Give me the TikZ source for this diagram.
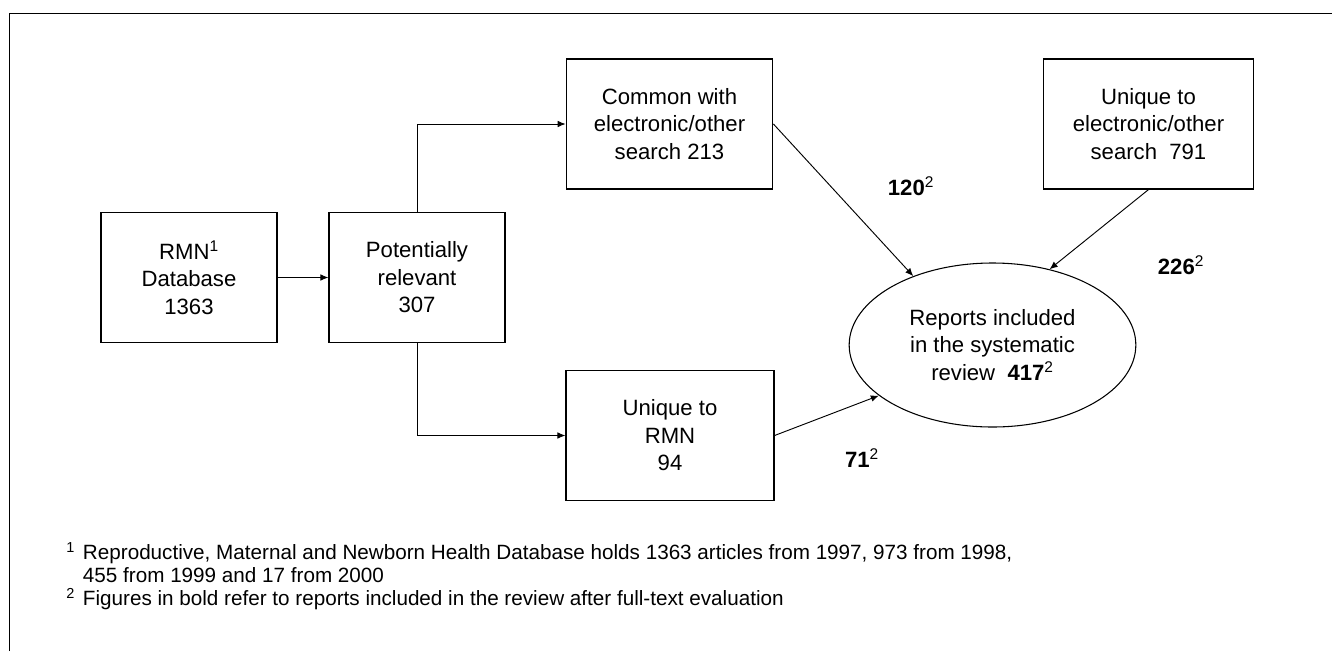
\documentclass[tikz,border=0pt]{standalone}
\usepackage{fontspec}
\setmainfont{Liberation Sans}
\usetikzlibrary{arrows.meta,shapes.geometric}
\newcommand{\cifra}[1]{\textbf{#1}\textsuperscript{2}}
\tikzset{
  caja/.style={draw, line width=0.9pt, align=center, inner sep=0pt},
  elipse/.style={draw, ellipse, line width=0.8pt, align=center, inner sep=0pt,
    minimum width=215pt, minimum height=123pt},
  flecha/.style={line width=0.7pt, -{Latex[length=6pt,width=5pt]}},
  texto/.style={font=\fontsize{16.6}{20.6}\selectfont}
}

\begin{document}
\begin{tikzpicture}[x=0.75pt,y=-0.75pt,texto]
  \useasboundingbox (0,0) rectangle (1332,651);
  \draw[line width=0.8pt] (9.5,651) -- (9.5,13.5) -- (1332,13.5);

  % cajas
  \node[caja, minimum width=132pt, minimum height=98pt] (rmn) at (189,277.5) {RMN\textsuperscript{1}\\Database\\1363};
  \node[caja, minimum width=132pt, minimum height=98pt] (pot) at (417,277.5) {Potentially\\relevant\\307};
  \node[caja, minimum width=155pt, minimum height=97.5pt] (comun) at (669.5,124) {Common with\\electronic/other\\search 213};
  \node[caja, minimum width=156pt, minimum height=98pt] (unirmn) at (670,435.5) {Unique to\\RMN\\94};
  \node[caja, minimum width=157pt, minimum height=97.5pt] (unielec) at (1148.5,124) {Unique to\\electronic/other\\search\ \ 791};
  \node[elipse] (rev) at (992.5,345) {Reports included\\in the systematic\\review\ \ \cifra{417}};

  % cifras
  \node (n120) at (911,186) {\cifra{120}};
  \node (n226) at (1181,265) {\cifra{226}};
  \node (n71)  at (862,458) {\cifra{71}};

  \draw[flecha] (rmn) -- (pot);
  \draw[flecha] (pot.north) |- (comun);
  \draw[flecha] (pot.south) |- (unirmn);
  \draw[flecha] (comun.east) -- (rev.139);
  \draw[flecha] (unielec.south) -- (rev.53);
  \draw[flecha] (unirmn.east) -- (rev.204);

  % notas
  \node[anchor=west, align=left, inner sep=0pt, font=\fontsize{15.5}{17.25}\selectfont] (notas) at (66,576)
    {\textsuperscript{1}\hspace{6pt}Reproductive, Maternal and Newborn Health Database holds 1363 articles from 1997, 973 from 1998,\\
     \hphantom{\textsuperscript{1}\hspace{6pt}}455 from 1999 and 17 from 2000\\
     \textsuperscript{2}\hspace{6pt}Figures in bold refer to reports included in the review after full-text evaluation};
\end{tikzpicture}
\end{document}
